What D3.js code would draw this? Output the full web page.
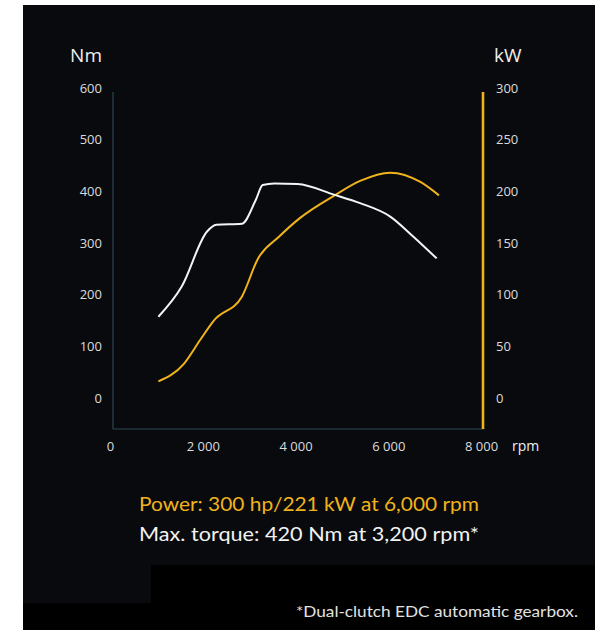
<!DOCTYPE html>
<meta charset="utf-8">
<script src="https://d3js.org/d3.v7.min.js"></script>
<style>
  body { margin: 0; background: #fff; }
</style>
<div class="vis"></div>

<script>
  let width = 599
  let height = 630

  // torque curve (Nm)
  let torqueRpm = [1000, 1500, 2050, 2250, 2800, 3100, 3250, 3500, 4000, 4800, 5350, 6000, 6500, 7000]
  let torqueNm = [163, 221, 328, 341, 343, 389, 418, 421, 420, 399, 383, 357, 318, 276]

  // power curve (kW)
  let powerRpm = [1000, 1550, 1900, 2200, 2800, 3150, 3600, 4050, 4800, 5350, 6000, 6650, 7050]
  let powerKw = [19, 36, 59, 78, 101, 138, 159, 177, 199, 213, 221, 212, 199]

  let rpmTicks = [0, 2000, 4000, 6000, 8000]
  let torqueTicks = [0, 100, 200, 300, 400, 500, 600]
  let powerTicks = [0, 50, 100, 150, 200, 250, 300]

  let yellow = '#f1b31c'
  let axisColor = '#2c4652'

  let svg = d3.select('.vis').append('svg')
    .attr('width', width).attr('height', height)

  // background panels
  svg.append('rect').attr('x', 23).attr('y', 5).attr('width', 572).attr('height', 625).attr('fill', '#080a0e')
  svg.append('rect').attr('x', 151).attr('y', 565).attr('width', 444).attr('height', 40).attr('fill', '#000')
  svg.append('rect').attr('x', 23).attr('y', 603).attr('width', 572).attr('height', 27).attr('fill', '#000')

  let x = d3.scaleLinear().domain([0, 8000]).range([112, 483])
  let yT = d3.scaleLinear().domain([0, 600]).range([401, 91])
  let yP = d3.scaleLinear().domain([0, 300]).range([401, 91])

  // frame
  svg.append('line').attr('x1', 113).attr('x2', 113).attr('y1', 92).attr('y2', 429)
    .attr('stroke', axisColor).attr('stroke-width', 1.2)
  svg.append('line').attr('x1', 113).attr('x2', 483).attr('y1', 429).attr('y2', 429)
    .attr('stroke', axisColor).attr('stroke-width', 1.2)
  svg.append('line').attr('x1', 483).attr('x2', 483).attr('y1', 92).attr('y2', 429)
    .attr('stroke', yellow).attr('stroke-width', 2.6)

  let fmt = (d) => d3.format(',')(d).replace(',', ' ')

  let styleAxis = (g) => {
    g.select('.domain').remove()
    g.selectAll('text')
      .attr('fill', '#dcdcdc')
      .style('font-family', '"Open Sans", sans-serif')
      .style('font-size', '13px')
  }

  svg.append('g')
    .attr('transform', 'translate(113,0)')
    .call(d3.axisLeft(yT).tickValues(torqueTicks).tickSize(0).tickPadding(11))
    .call(styleAxis)
    .call((g) => g.selectAll('text').attr('dy', '0.1em'))

  svg.append('g')
    .attr('transform', 'translate(483,0)')
    .call(d3.axisRight(yP).tickValues(powerTicks).tickSize(0).tickPadding(13))
    .call(styleAxis)
    .call((g) => g.selectAll('text').attr('dy', '0.1em'))

  svg.append('g')
    .attr('transform', 'translate(0,429)')
    .call(d3.axisBottom(x).tickValues(rpmTicks).tickSize(0).tickPadding(13).tickFormat(fmt))
    .call(styleAxis)
    .call((g) => g.selectAll('text').attr('dx', '-0.15em'))

  // unit labels
  let unit = (txt, xx, yy, size, anchor) =>
    svg.append('text').text(txt)
      .attr('x', xx).attr('y', yy)
      .attr('text-anchor', anchor)
      .attr('fill', '#efefef')
      .style('font-family', '"Open Sans", sans-serif')
      .style('font-size', size + 'px')

  unit('Nm', 102, 62, 19, 'end')
  unit('kW', 494, 62, 19, 'start')
  unit('rpm', 512, 451, 14, 'start')

  // curves
  let torqueData = torqueRpm.map((r, i) => [r, torqueNm[i]])
  let powerData = powerRpm.map((r, i) => [r, powerKw[i]])

  let lineT = d3.line().x((d) => x(d[0])).y((d) => yT(d[1])).curve(d3.curveMonotoneX)
  let lineP = d3.line().x((d) => x(d[0])).y((d) => yP(d[1])).curve(d3.curveMonotoneX)

  svg.append('path').datum(powerData)
    .attr('d', lineP)
    .attr('fill', 'none')
    .attr('stroke', yellow)
    .attr('stroke-width', 2)

  svg.append('path').datum(torqueData)
    .attr('d', lineT)
    .attr('fill', 'none')
    .attr('stroke', '#f4f4f4')
    .attr('stroke-width', 2)

  // captions
  svg.append('text').text('Power: 300 hp/221 kW at 6,000 rpm')
    .attr('x', 139).attr('y', 511)
    .attr('textLength', 340).attr('lengthAdjust', 'spacingAndGlyphs')
    .attr('fill', yellow)
    .style('font-family', 'Lato, sans-serif')
    .style('font-size', '18.5px')

  svg.append('text').text('Max. torque: 420 Nm at 3,200 rpm*')
    .attr('x', 139).attr('y', 541)
    .attr('textLength', 340).attr('lengthAdjust', 'spacingAndGlyphs')
    .attr('fill', '#f2f2f2')
    .style('font-family', 'Lato, sans-serif')
    .style('font-size', '18.5px')

  svg.append('text').text('*Dual-clutch EDC automatic gearbox.')
    .attr('x', 296).attr('y', 617)
    .attr('textLength', 282).attr('lengthAdjust', 'spacingAndGlyphs')
    .attr('fill', '#e2e2e2')
    .style('font-family', 'Lato, sans-serif')
    .style('font-size', '15px')
</script>
